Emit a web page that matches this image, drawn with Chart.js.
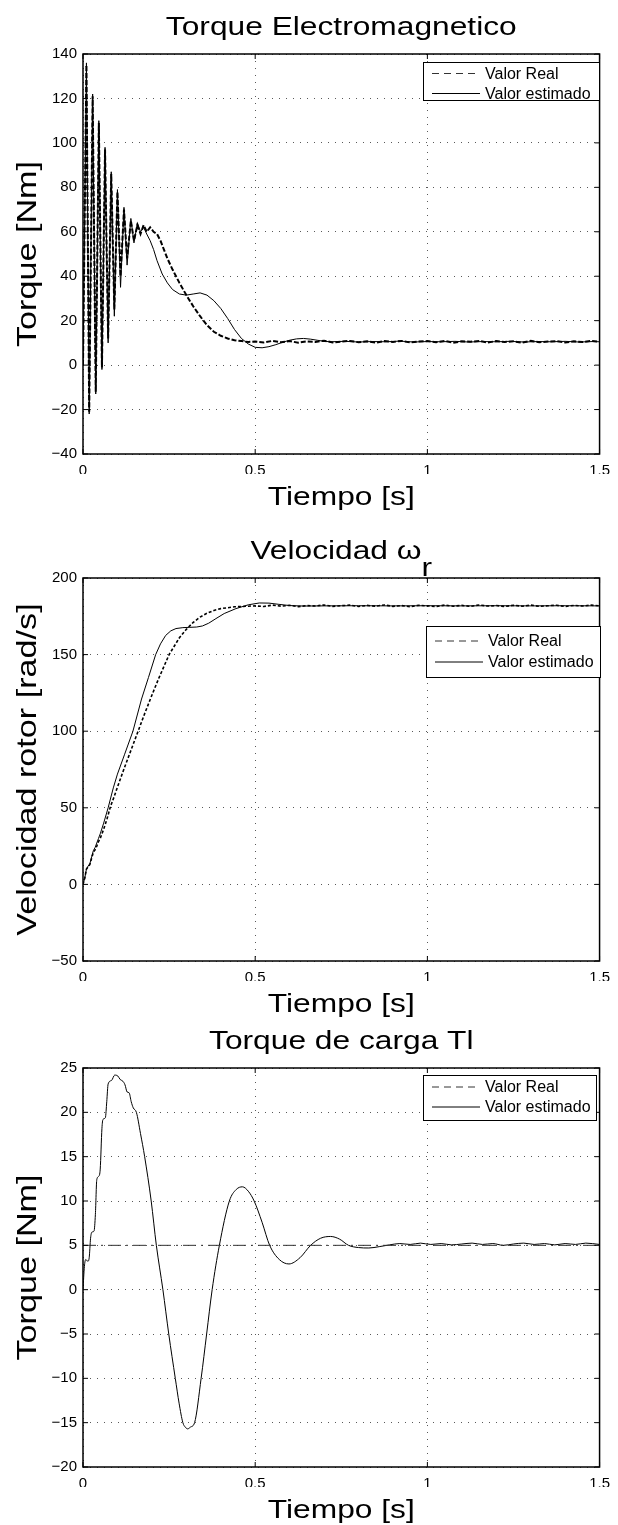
<!DOCTYPE html>
<html>
<head>
<meta charset="utf-8">
<title>Torque y velocidad</title>
<script src="https://cdn.jsdelivr.net/npm/chart.js@4.4.1/dist/chart.umd.min.js"></script>
<style>
  body { margin: 0; background: #fff; }
  canvas { position: absolute; left: 0; }
</style>
</head>
<body>
<canvas id="g1" width="618" height="520" style="top:0"></canvas>
<canvas id="g2" width="618" height="505" style="top:520px"></canvas>
<canvas id="g3" width="618" height="500" style="top:1025px"></canvas>
<script>
// ---- datos ----
const ticksX = [0, 0.5, 1, 1.5];

// cola comun (t > 0.5 s) para las curvas reales
const tiempoCola = [0.525, 0.55, 0.575, 0.6, 0.625, 0.65, 0.675, 0.7, 0.725, 0.75,
  0.775, 0.8, 0.825, 0.85, 0.875, 0.9, 0.925, 0.95, 0.975, 1.0,
  1.025, 1.05, 1.075, 1.1, 1.125, 1.15, 1.175, 1.2, 1.225, 1.25,
  1.275, 1.3, 1.325, 1.35, 1.375, 1.4, 1.425, 1.45, 1.475, 1.5];

// Torque electromagnetico
const tReal1 = [0, 0.010, 0.018, 0.028, 0.037, 0.046, 0.055, 0.064, 0.073, 0.082,
  0.091, 0.100, 0.109, 0.119, 0.128, 0.139, 0.148, 0.158, 0.167, 0.176,
  0.185, 0.195, 0.205, 0.215, 0.225, 0.235, 0.245, 0.26, 0.28, 0.30,
  0.32, 0.34, 0.36, 0.38, 0.40, 0.42, 0.44, 0.46, 0.48, 0.50];
const real1 = [0, 135, -21, 121, -12, 109, -1, 97, 12, 86,
  25, 78, 40, 70, 48, 65, 56, 63, 59, 63,
  60, 62, 60, 59, 56, 52, 48, 43, 37, 31.5,
  26.5, 22, 18, 15, 13.2, 12, 11.2, 10.8, 10.4, 10.6];
const colaReal1 = [10.2, 10.9, 10.3, 10.8, 10.1, 10.7, 10.4, 11.0, 10.2, 10.6,
  10.9, 10.3, 10.7, 10.1, 10.8, 10.4, 10.9, 10.2, 10.6, 10.8,
  10.3, 10.9, 10.1, 10.7, 10.5, 10.9, 10.2, 10.8, 10.4, 10.7,
  10.1, 10.9, 10.3, 10.6, 10.8, 10.2, 10.7, 10.4, 10.9, 10.5];
const tEst1 = [0, 0.010, 0.018, 0.028, 0.037, 0.046, 0.055, 0.064, 0.073, 0.082,
  0.091, 0.100, 0.109, 0.119, 0.128, 0.139, 0.148, 0.158, 0.167, 0.176,
  0.185, 0.195, 0.205, 0.215, 0.23, 0.245, 0.26, 0.28, 0.30, 0.32,
  0.34, 0.36, 0.38, 0.40, 0.42, 0.44, 0.46, 0.48, 0.50, 0.52,
  0.54, 0.56, 0.58, 0.60, 0.62, 0.64, 0.66, 0.68, 0.70, 0.72,
  0.76, 0.80, 0.84, 0.88, 0.92, 0.96, 1.0, 1.04, 1.08, 1.12,
  1.16, 1.2, 1.24, 1.28, 1.32, 1.36, 1.4, 1.44, 1.48, 1.5];
const est1 = [0, 136, -22, 122, -13, 110, -2, 98, 10, 87,
  22, 79, 35, 71, 45, 66, 55, 64, 60, 62,
  59, 56, 52, 47, 41, 37, 34, 32, 31.5, 32,
  32.5, 31.5, 29, 25.5, 21, 16, 12, 9.5, 8, 7.8,
  8.3, 9.2, 10.3, 11.2, 11.8, 12, 11.7, 11.2, 10.7, 10.5,
  10.7, 10.4, 10.6, 10.5, 10.8, 10.4, 10.6, 10.5, 10.7, 10.4,
  10.6, 10.5, 10.7, 10.4, 10.6, 10.5, 10.7, 10.4, 10.6, 10.5];

// Velocidad del rotor
const tReal2 = [0, 0.005, 0.01, 0.015, 0.02, 0.025, 0.03, 0.035, 0.04, 0.045,
  0.05, 0.06, 0.07, 0.08, 0.09, 0.1, 0.12, 0.14, 0.16, 0.18,
  0.2, 0.22, 0.25, 0.28, 0.30, 0.32, 0.34, 0.36, 0.38, 0.40,
  0.44, 0.48, 0.50];
const real2 = [0, 4, 10, 11.5, 13, 17, 21, 22.5, 25, 28,
  30, 36, 43, 51, 57, 63.5, 76, 88, 100, 112,
  123.5, 134.5, 150, 161, 166.5, 171, 174.5, 177, 178.8, 180,
  181.2, 181.6, 181.8];
const colaReal2 = [181.4, 182.3, 181.6, 182.2, 181.3, 182.0, 181.7, 182.4, 181.5, 181.9,
  182.3, 181.4, 182.1, 181.6, 182.4, 181.5, 182.0, 181.3, 182.2, 181.8,
  181.4, 182.3, 181.6, 182.1, 181.5, 182.4, 181.7, 182.0, 181.4, 182.2,
  181.6, 182.3, 181.5, 181.9, 182.2, 181.4, 182.1, 181.7, 182.3, 181.8];
const tEst2 = [0, 0.005, 0.01, 0.015, 0.02, 0.025, 0.03, 0.035, 0.04, 0.045,
  0.05, 0.06, 0.073, 0.088, 0.1, 0.121, 0.145, 0.17, 0.19, 0.211,
  0.225, 0.24, 0.255, 0.27, 0.29, 0.31, 0.33, 0.347, 0.365, 0.386,
  0.41, 0.444, 0.48, 0.512, 0.54, 0.569, 0.6, 0.64, 0.7, 0.8,
  0.9, 1.0, 1.1, 1.2, 1.3, 1.4, 1.5];
const est2 = [0, 4, 10, 12, 13.5, 18, 22, 24, 27, 30,
  33, 40, 50, 63, 72, 85, 100, 121, 135, 150,
  157, 162.5, 165.5, 167, 167.6, 167.8, 168, 168.7, 170.5, 173.5,
  176.8, 180, 182.5, 183.7, 183.6, 182.8, 182, 181.7, 181.8, 181.9,
  181.8, 181.9, 181.8, 181.9, 181.8, 181.9, 181.8];

// Torque de carga
const tReal3 = [0, 1.5];
const real3 = [5, 5];
const tEst3 = [0, 0.004, 0.008, 0.014, 0.018, 0.022, 0.026, 0.032, 0.036, 0.04,
  0.046, 0.05, 0.055, 0.058, 0.065, 0.069, 0.073, 0.083, 0.092, 0.101,
  0.108, 0.116, 0.122, 0.128, 0.134, 0.14, 0.146, 0.155, 0.167, 0.179,
  0.198, 0.213, 0.232, 0.249, 0.268, 0.279, 0.29, 0.297, 0.304, 0.312,
  0.324, 0.343, 0.359, 0.375, 0.396, 0.425, 0.445, 0.463, 0.48, 0.497,
  0.52, 0.542, 0.57, 0.598, 0.63, 0.661, 0.69, 0.719, 0.745, 0.771,
  0.80, 0.83, 0.86, 0.89, 0.92, 0.95, 0.98, 1.01, 1.04, 1.07,
  1.10, 1.13, 1.16, 1.19, 1.22, 1.25, 1.28, 1.31, 1.34, 1.37,
  1.40, 1.43, 1.46, 1.5];
const est3 = [0, 2.6, 3.4, 3.2, 3.6, 5.8, 6.5, 6.6, 8.5, 12.4,
  12.8, 13.6, 18.2, 19.2, 19.4, 21.2, 23.2, 23.6, 24.2, 24.1,
  23.7, 23.5, 23.1, 22.3, 22.2, 21.2, 20.5, 20, 17.6, 15,
  10, 5, 0, -5, -10, -12.8, -15, -15.5, -15.7, -15.5,
  -15, -10, -5, 0, 5, 10, 11.3, 11.6, 11.1, 10,
  7.6, 5, 3.4, 2.9, 3.6, 5, 5.8, 6.0, 5.7, 5,
  4.75, 4.7, 4.85, 5.05, 5.2, 5.1, 5.25, 5.1, 5.2, 5.05,
  5.15, 5.25, 5.1, 5.2, 5.0, 5.15, 5.25, 5.1, 5.2, 5.05,
  5.2, 5.1, 5.25, 5.1];

// ---- dibujo ----
const fuente = '"Liberation Sans", Arial, Helvetica, sans-serif';
const K = 1.22; // el texto grande de la figura es mas ancho que Arial

const pares = (t, v) => t.map((x, i) => ({ x: x, y: v[i] }));
const fmt = (v) => (v < 0 ? '\u2212' + Math.abs(v) : String(v));

function textoAncho(ctx, txt, x, y, size, girado) {
  ctx.save();
  ctx.translate(x, y);
  if (girado) ctx.rotate(-Math.PI / 2);
  ctx.scale(K, 1);
  ctx.font = size + 'px ' + fuente;
  ctx.textAlign = 'center';
  ctx.textBaseline = 'alphabetic';
  ctx.fillStyle = '#000';
  ctx.fillText(txt, 0, 0);
  ctx.restore();
}

function titulo(ctx, txt, sub, cx, y) {
  ctx.save();
  ctx.font = '26px ' + fuente;
  ctx.fillStyle = '#000';
  const w1 = ctx.measureText(txt).width * K;
  const w2 = sub ? ctx.measureText(sub).width * K : 0;
  ctx.translate(cx - (w1 + w2) / 2, y);
  ctx.scale(K, 1);
  ctx.textAlign = 'left';
  ctx.fillText(txt, 0, 0);
  if (sub) ctx.fillText(sub, w1 / K, 17);
  ctx.restore();
}

const marcoMatlab = {
  id: 'marcoMatlab',
  afterDraw(chart, args, o) {
    const ctx = chart.ctx;
    const a = chart.chartArea;
    const sx = chart.scales.x, sy = chart.scales.y;
    ctx.save();
    ctx.strokeStyle = '#000';
    ctx.lineWidth = 1;
    ctx.setLineDash([]);
    // marcas hacia dentro en los cuatro lados
    ctx.beginPath();
    sx.ticks.forEach((t) => {
      const px = sx.getPixelForValue(t.value);
      ctx.moveTo(px, a.bottom); ctx.lineTo(px, a.bottom - 5);
      ctx.moveTo(px, a.top); ctx.lineTo(px, a.top + 5);
    });
    sy.ticks.forEach((t) => {
      const py = sy.getPixelForValue(t.value);
      ctx.moveTo(a.left, py); ctx.lineTo(a.left + 5, py);
      ctx.moveTo(a.right, py); ctx.lineTo(a.right - 5, py);
    });
    ctx.stroke();
    ctx.lineWidth = 1.5;
    ctx.strokeRect(a.left, a.top, a.right - a.left, a.bottom - a.top);

    // leyenda
    const lg = o.leyenda;
    const bx = a.left + lg.x, by = a.top + lg.y;
    ctx.fillStyle = '#fff';
    ctx.fillRect(bx, by, lg.w, lg.h);
    ctx.lineWidth = 1;
    ctx.strokeRect(bx + 0.5, by + 0.5, lg.w, lg.h);
    ctx.font = '16px ' + fuente;
    ctx.textBaseline = 'middle';
    ctx.textAlign = 'left';
    ctx.fillStyle = '#000';
    chart.data.datasets.forEach((ds, i) => {
      const yy = by + lg.filas[i];
      ctx.strokeStyle = i === 0 ? '#333' : '#000';
      ctx.setLineDash(i === 0 ? [7, 5] : []);
      ctx.beginPath();
      ctx.moveTo(bx + 9, yy);
      ctx.lineTo(bx + 57, yy);
      ctx.stroke();
      ctx.setLineDash([]);
      ctx.fillText(ds.label, bx + 62, yy + 1);
    });
    ctx.restore();

    const cx = (a.left + a.right) / 2;
    titulo(ctx, o.titulo, o.sub, cx, a.top - 19);
    textoAncho(ctx, 'Tiempo [s]', cx, a.bottom + 51, 26, false);
    textoAncho(ctx, o.ylabel, 36, (a.top + a.bottom) / 2, 28, true);
  }
};

function grafica(id, c) {
  const ejeTicks = { color: '#000', font: { family: fuente, size: 15 }, callback: fmt };
  return new Chart(document.getElementById(id), {
    type: 'line',
    data: {
      datasets: [
        { label: 'Valor Real', data: c.real, borderColor: c.colorReal, borderWidth: c.anchoReal,
          borderDash: c.dash, pointRadius: 0, tension: 0, fill: false },
        { label: 'Valor estimado', data: c.est, borderColor: '#000', borderWidth: 1,
          pointRadius: 0, tension: 0, fill: false,
          cubicInterpolationMode: c.suave ? 'monotone' : 'default' }
      ]
    },
    options: {
      responsive: false,
      animation: false,
      events: [],
      layout: { padding: c.padding },
      plugins: {
        legend: { display: false },
        tooltip: { enabled: false },
        marcoMatlab: { titulo: c.titulo, sub: c.sub, ylabel: c.ylabel, leyenda: c.leyenda }
      },
      scales: {
        x: {
          type: 'linear', min: 0, max: 1.5,
          afterBuildTicks: (s) => { s.ticks = ticksX.map((v) => ({ value: v })); },
          ticks: Object.assign({ padding: 8 }, ejeTicks),
          grid: { color: 'rgba(0,0,0,0.65)', lineWidth: 1, drawTicks: false },
          border: { display: false, dash: [1, 6] },
          afterFit: (s) => { s.height = 20; }
        },
        y: {
          type: 'linear', min: c.min, max: c.max,
          ticks: Object.assign({ stepSize: c.paso, padding: 6 }, ejeTicks),
          grid: { color: 'rgba(0,0,0,0.65)', lineWidth: 1, drawTicks: false },
          border: { display: false, dash: [1, 6] },
          afterFit: (s) => { s.width = 83; }
        }
      }
    },
    plugins: [marcoMatlab]
  });
}

grafica('g1', {
  real: pares(tReal1.concat(tiempoCola), real1.concat(colaReal1)),
  est: pares(tEst1, est1),
  anchoReal: 2, dash: [5, 2], colorReal: '#000', suave: false,
  min: -40, max: 140, paso: 20,
  padding: { top: 54, right: 15, bottom: 46, left: 0 },
  titulo: 'Torque Electromagnetico', ylabel: 'Torque [Nm]',
  leyenda: { x: 340, y: 8, w: 176, h: 38, filas: [11.5, 31.5] }
});

grafica('g2', {
  real: pares(tReal2.concat(tiempoCola), real2.concat(colaReal2)),
  est: pares(tEst2, est2),
  anchoReal: 1.6, dash: [3, 2], colorReal: '#000', suave: false,
  min: -50, max: 200, paso: 50,
  padding: { top: 58, right: 15, bottom: 44, left: 0 },
  titulo: 'Velocidad \u03c9', sub: 'r', ylabel: 'Velocidad rotor [rad/s]',
  leyenda: { x: 343, y: 48, w: 174, h: 51, filas: [15, 36] }
});

grafica('g3', {
  real: pares(tReal3, real3),
  est: pares(tEst3, est3),
  anchoReal: 1, dash: [13, 5, 2, 5], colorReal: '#333', suave: true,
  min: -20, max: 25, paso: 5,
  padding: { top: 43, right: 15, bottom: 38, left: 0 },
  titulo: 'Torque de carga Tl', ylabel: 'Torque [Nm]',
  leyenda: { x: 340, y: 7, w: 173, h: 45, filas: [12, 32] }
});
</script>
</body>
</html>
